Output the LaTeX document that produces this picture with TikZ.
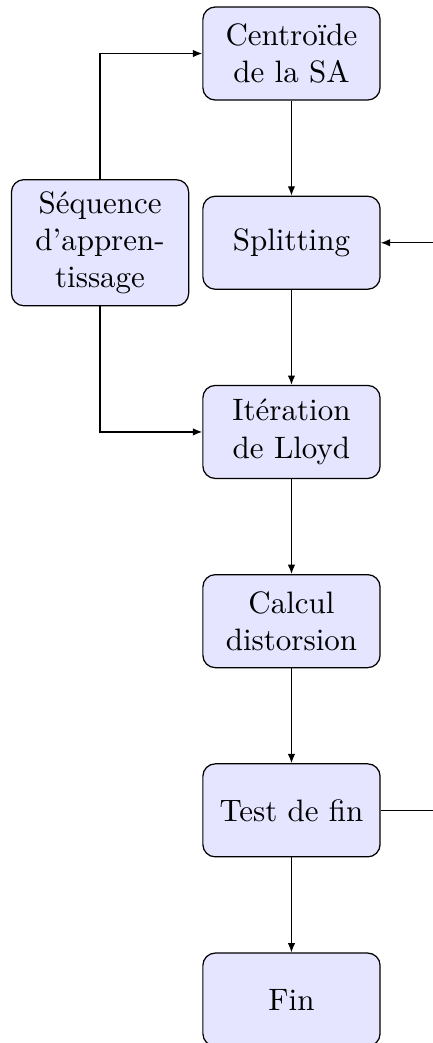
\documentclass[tikz,border=0pt]{standalone}
\usepackage{xcolor}
\usepackage{tikz}
\usetikzlibrary{arrows.meta, positioning}

\begin{document}
\begin{tikzpicture}[
    block/.style={rectangle, rounded corners=4pt, draw=black, fill=blue!10,
                  minimum width=2.01cm, minimum height=1.055cm,
                  align=center},
    arr/.style={-{Latex[length=3pt, width=2.4pt]}, draw=black},
    node distance=1.077cm
]

\useasboundingbox (0,0) rectangle (4.911,-11.830);

\node[block] (cent) at (3.306,-0.607) {Centroïde\\de la SA};

\node[block, below=of cent] (split) {Splitting};

\node[block, minimum height=1.43cm, left=0.147cm of split] (seq)
    {Séquence\\d'appren-\\tissage};

\node[block, below=of split] (iter) {Itération\\de Lloyd};

\node[block, below=of iter] (dist) {Calcul\\distorsion};

\node[block, below=of dist] (test) {Test de fin};

\node[block, below=of test] (fin) {Fin};

\coordinate[right=1cm of test] (back);

\draw[arr] (seq.north) |- (cent.west);
\draw[arr] (seq.south) |- (iter.west);
\draw[arr] (cent)  -- (split);
\draw[arr] (split) -- (iter);
\draw[arr] (iter)  -- (dist);
\draw[arr] (dist)  -- (test);
\draw[arr] (test)  -- (fin);
\draw[arr] (test.east) -- (back) |- (split.east);

\end{tikzpicture}
\end{document}
